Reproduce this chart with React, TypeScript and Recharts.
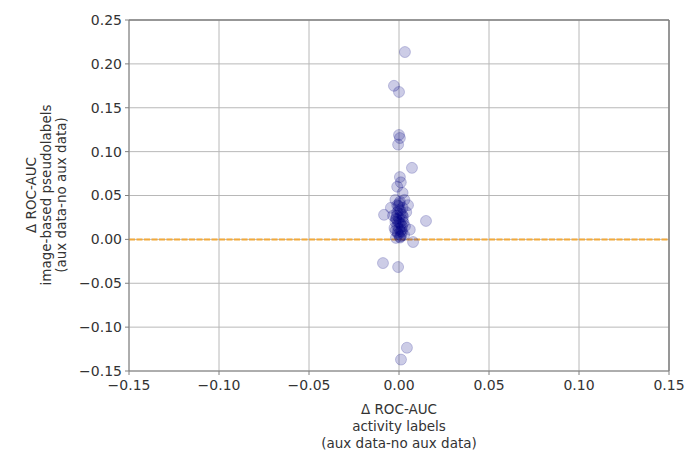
import React from 'react';
import {
  ScatterChart,
  Scatter,
  XAxis,
  YAxis,
  CartesianGrid,
  ReferenceLine,
} from 'recharts';

// delta ROC-AUC: activity labels (x) vs image-based pseudolabels (y)
const activityDelta = [
  0.0033, -0.0028, 0.0, 0.0, 0.0005, -0.0005, 0.0072, 0.0005, 0.001, -0.001,
  0.002, -0.002, 0.0005, 0.005, -0.0045, 0.002, -0.001, 0.004, -0.0083, -0.0033,
  0.0, 0.002, 0.015, -0.002, 0.001, -0.001, 0.0033, 0.0, 0.006, -0.002,
  0.0017, -0.0005, 0.0028, 0.0005, -0.0017, 0.0078, -0.0089, -0.0005, 0.0044, 0.0011,
  0.0, 0.001, -0.001, 0.003, -0.0017, 0.0017, -0.0005,
  -0.0012, 0.0008, 0.0022, -0.0025, 0.0003, 0.0015, -0.0008, 0.0012, 0.0025, -0.0015,
  0.0006, 0.0018, -0.0003, 0.0009, 0.0002,
];
const pseudoDelta = [
  0.2135, 0.175, 0.168, 0.119, 0.1155, 0.108, 0.0815, 0.071, 0.065, 0.06,
  0.053, 0.045, 0.043, 0.039, 0.036, 0.036, 0.031, 0.031, 0.028, 0.027,
  0.0245, 0.022, 0.021, 0.02, 0.0175, 0.015, 0.015, 0.012, 0.011, 0.0097,
  0.0085, 0.006, 0.005, 0.003, 0.0017, -0.003, -0.027, -0.0315, -0.1235, -0.137,
  0.0335, 0.029, 0.039, 0.045, 0.024, 0.015, 0.02,
  0.027, 0.033, 0.026, 0.013, 0.019, 0.011, 0.008, 0.004, 0.019, 0.023,
  0.002, 0.028, 0.038, 0.009, 0.041,
];
const xTicks = [-0.15, -0.1, -0.05, 0, 0.05, 0.1, 0.15];
const yTicks = [-0.15, -0.1, -0.05, 0, 0.05, 0.1, 0.15, 0.2, 0.25];

const points = activityDelta.map((x, i) => ({ x, y: pseudoDelta[i] }));

const fmt = (v: number) => (v < 0 ? '\u2212' : '') + Math.abs(v).toFixed(2);

const FONT = '"DejaVu Sans", sans-serif';
const tickStyle = { fontSize: 14, fill: '#333', fontFamily: FONT };

const Dot = (props: any) => {
  const { cx, cy } = props;
  return (
    <circle
      cx={cx}
      cy={cy}
      r={5.5}
      fill="#000080"
      fillOpacity={0.2}
      stroke="#000080"
      strokeOpacity={0.2}
      strokeWidth={1}
    />
  );
};

export default function App() {
  return (
    <div style={{ position: 'absolute', left: 0, top: 0, width: 689, height: 454, background: '#fff' }}>
      <ScatterChart
        width={689}
        height={454}
        margin={{ top: 20, right: 20, bottom: 53, left: 69 }}
      >
        <CartesianGrid stroke="#b8b8b8" strokeWidth={1} horizontalValues={yTicks} verticalValues={xTicks} />
        <XAxis
          type="number"
          dataKey="x"
          domain={[-0.15, 0.15]}
          ticks={xTicks}
          tickFormatter={fmt}
          tick={tickStyle}
          height={30}
          stroke="#808080"
          tickSize={4}
          tickMargin={5}
          allowDataOverflow
        />
        <YAxis
          type="number"
          dataKey="y"
          domain={[-0.15, 0.25]}
          ticks={yTicks}
          tickFormatter={fmt}
          tick={tickStyle}
          width={60}
          stroke="#808080"
          tickSize={4}
          tickMargin={3}
          allowDataOverflow
        />
        <ReferenceLine y={0.25} stroke="#808080" strokeWidth={1.5} />
        <ReferenceLine x={0.15} stroke="#808080" strokeWidth={1.5} />
        <ReferenceLine y={0} stroke="#f2a93b" strokeWidth={2} strokeDasharray="6 1.5" />
        <Scatter data={points} shape={<Dot />} isAnimationActive={false} />
      </ScatterChart>
      <svg
        width={689}
        height={454}
        style={{ position: 'absolute', left: 0, top: 0, pointerEvents: 'none' }}
      >
        <g fontFamily={FONT} fontSize={13.5} fill="#333" textAnchor="middle">
          <text x={399} y={414}>Δ ROC-AUC</text>
          <text x={399} y={431}>activity labels</text>
          <text x={399} y={448}>(aux data-no aux data)</text>
          <g transform="translate(0,195) rotate(-90)">
            <text x={0} y={36}>Δ ROC-AUC</text>
            <text x={0} y={51}>image-based pseudolabels</text>
            <text x={0} y={66}>(aux data-no aux data)</text>
          </g>
        </g>
      </svg>
    </div>
  );
}
